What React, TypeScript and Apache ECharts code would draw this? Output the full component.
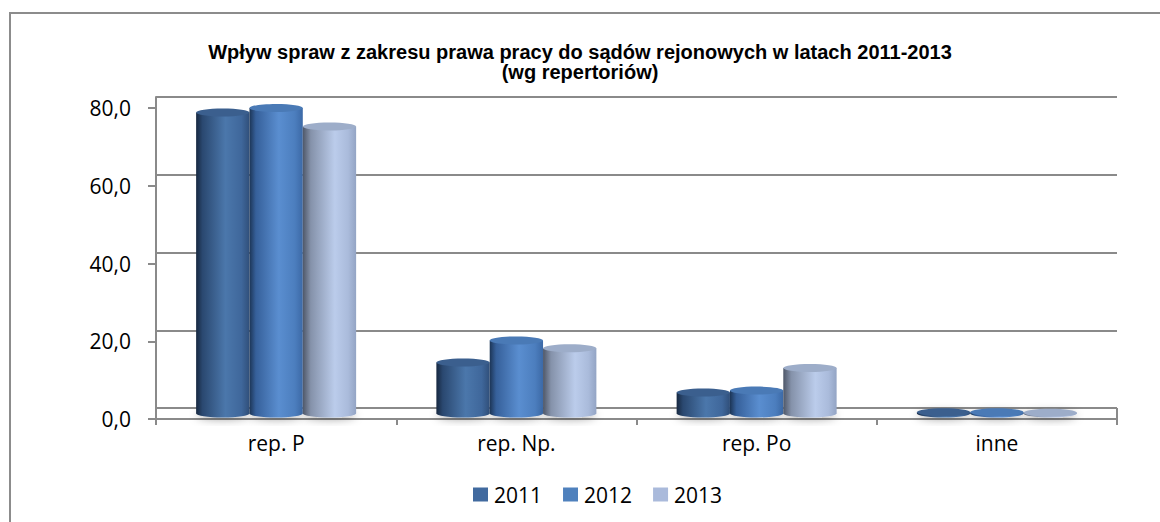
import React, { useEffect, useRef } from 'react';
import * as echarts from 'echarts';

const categories = ['rep. P', 'rep. Np.', 'rep. Po', 'inne'];
const years = ['2011', '2012', '2013'];
const values2011 = [77.4, 13.1, 5.4, 0.3];
const values2012 = [78.6, 18.8, 5.9, 0.3];
const values2013 = [73.8, 16.8, 11.7, 0.2];
const seriesValues = [values2011, values2012, values2013];
const yMin = 0;
const yMax = 80;
const yInterval = 20;
const titleText = 'Wpływ spraw z zakresu prawa pracy do sądów rejonowych w latach 2011-2013\n(wg repertoriów)';

const legendColors = ['#416A9F', '#4F81BD', '#AABADB'];
const topColors = ['#3B5F8E', '#4A7AB6', '#9DADC9'];
const bodyStops = [
  [
    { offset: 0, color: '#172840' },
    { offset: 0.12, color: '#2A4870' },
    { offset: 0.55, color: '#4B77AB' },
    { offset: 0.85, color: '#3F679B' },
    { offset: 1, color: '#304F7A' },
  ],
  [
    { offset: 0, color: '#1C3556' },
    { offset: 0.12, color: '#36609A' },
    { offset: 0.55, color: '#5A8ED0' },
    { offset: 0.85, color: '#4C7EBE' },
    { offset: 1, color: '#3C69A6' },
  ],
  [
    { offset: 0, color: '#4E5768' },
    { offset: 0.15, color: '#8592AA' },
    { offset: 0.6, color: '#BBCCEB' },
    { offset: 0.85, color: '#AABBDB' },
    { offset: 1, color: '#93A4C4' },
  ],
];

const GRAY = '#8A8A8A';
const LABEL_FONT = 'Open Sans';

function makeRender(sIdx: number) {
  return (params: any, api: any) => {
    const ci = api.value(0);
    const v = api.value(1);
    const p0 = api.coord([ci, 0]);
    const p1 = api.coord([ci, v]);
    const band = api.size([1, 0])[0];
    const bw = band * 0.222;
    const cx = p0[0] + (sIdx - 1) * bw;
    const x0 = cx - bw / 2;
    const depthShift = -5.5;
    const yb = p0[1] + depthShift;
    const yt = p1[1] + depthShift;
    const ry = 4;
    const grad = new echarts.graphic.LinearGradient(0, 0, 1, 0, bodyStops[sIdx]);
    return {
      type: 'group',
      children: [
        {
          type: 'ellipse',
          shape: { cx, cy: yb, rx: bw / 2, ry },
          style: { fill: grad, shadowBlur: 8, shadowColor: 'rgba(0,0,0,0.35)', shadowOffsetY: 2 },
        },
        {
          type: 'rect',
          shape: { x: x0, y: yt, width: bw, height: Math.max(0, yb - yt) },
          style: { fill: grad },
        },
        {
          type: 'ellipse',
          shape: { cx, cy: yt, rx: bw / 2, ry },
          style: { fill: topColors[sIdx] },
        },
      ],
    };
  };
}

export default function App() {
  const ref = useRef<HTMLDivElement>(null);
  useEffect(() => {
    if (!ref.current) return;
    const chart = echarts.init(ref.current, null, { renderer: 'svg' });
    const option: any = {
      animation: false,
      backgroundColor: '#ffffff',
      title: {
        text: titleText,
        left: 'center',
        top: 37,
        textStyle: {
          fontFamily: 'Liberation Sans',
          fontWeight: 'bold',
          fontSize: 20,
          lineHeight: 20,
          color: '#000',
        },
      },
      legend: {
        data: years,
        left: 468,
        top: 479,
        itemWidth: 15,
        itemHeight: 14,
        itemGap: 21,
        icon: 'rect',
        textStyle: { fontFamily: LABEL_FONT, fontSize: 21, color: '#000', padding: [0, 0, 0, 1] },
      },
      grid: [
        { left: 156, right: 43, top: 108, bottom: 103 },
        { left: 156, right: 43, top: 97, bottom: 114 },
      ],
      xAxis: [
        {
          type: 'category',
          gridIndex: 0,
          data: categories,
          boundaryGap: true,
          axisLine: { show: true, lineStyle: { color: GRAY, width: 2 } },
          axisTick: { show: true, length: 6, lineStyle: { color: GRAY, width: 2 } },
          axisLabel: { margin: 13, fontFamily: LABEL_FONT, fontSize: 21, color: '#000' },
        },
        {
          type: 'category',
          gridIndex: 1,
          data: categories,
          show: false,
        },
      ],
      yAxis: [
        {
          type: 'value',
          gridIndex: 0,
          min: yMin,
          max: yMax,
          interval: yInterval,
          axisLine: { show: true, lineStyle: { color: GRAY, width: 2 } },
          axisTick: { show: true, length: 8, lineStyle: { color: GRAY, width: 2 } },
          splitLine: { show: false },
          axisLabel: {
            margin: 25,
            fontFamily: LABEL_FONT,
            fontSize: 21,
            color: '#000',
            formatter: (v: number) => v.toFixed(1).replace('.', ','),
          },
        },
        {
          type: 'value',
          gridIndex: 1,
          min: yMin,
          max: yMax,
          interval: yInterval,
          axisLine: { show: true, lineStyle: { color: GRAY, width: 2 } },
          axisTick: { show: false },
          axisLabel: { show: false },
          splitLine: { show: true, lineStyle: { color: GRAY, width: 2 } },
        },
      ],
      graphic: [
        {
          type: 'rect',
          shape: { x: 10, y: 13, width: 1170, height: 530 },
          style: { fill: 'none', stroke: '#8C8C8C', lineWidth: 2 },
          silent: true,
          z: -10,
        },
        {
          type: 'line',
          shape: { x1: 1117, y1: 408, x2: 1117, y2: 419 },
          style: { stroke: GRAY, lineWidth: 2 },
          silent: true,
        },
      ],
      series: years.map((y, i) => ({
        name: y,
        type: 'custom',
        xAxisIndex: 0,
        yAxisIndex: 0,
        itemStyle: { color: legendColors[i] },
        encode: { x: 0, y: 1 },
        data: seriesValues[i].map((v, ci) => [ci, v]),
        renderItem: makeRender(i),
        z: 5,
      })),
    };
    chart.setOption(option);
    return () => chart.dispose();
  }, []);
  return (
    <div
      ref={ref}
      style={{ position: 'absolute', left: 0, top: 0, width: 1160, height: 522 }}
    />
  );
}
